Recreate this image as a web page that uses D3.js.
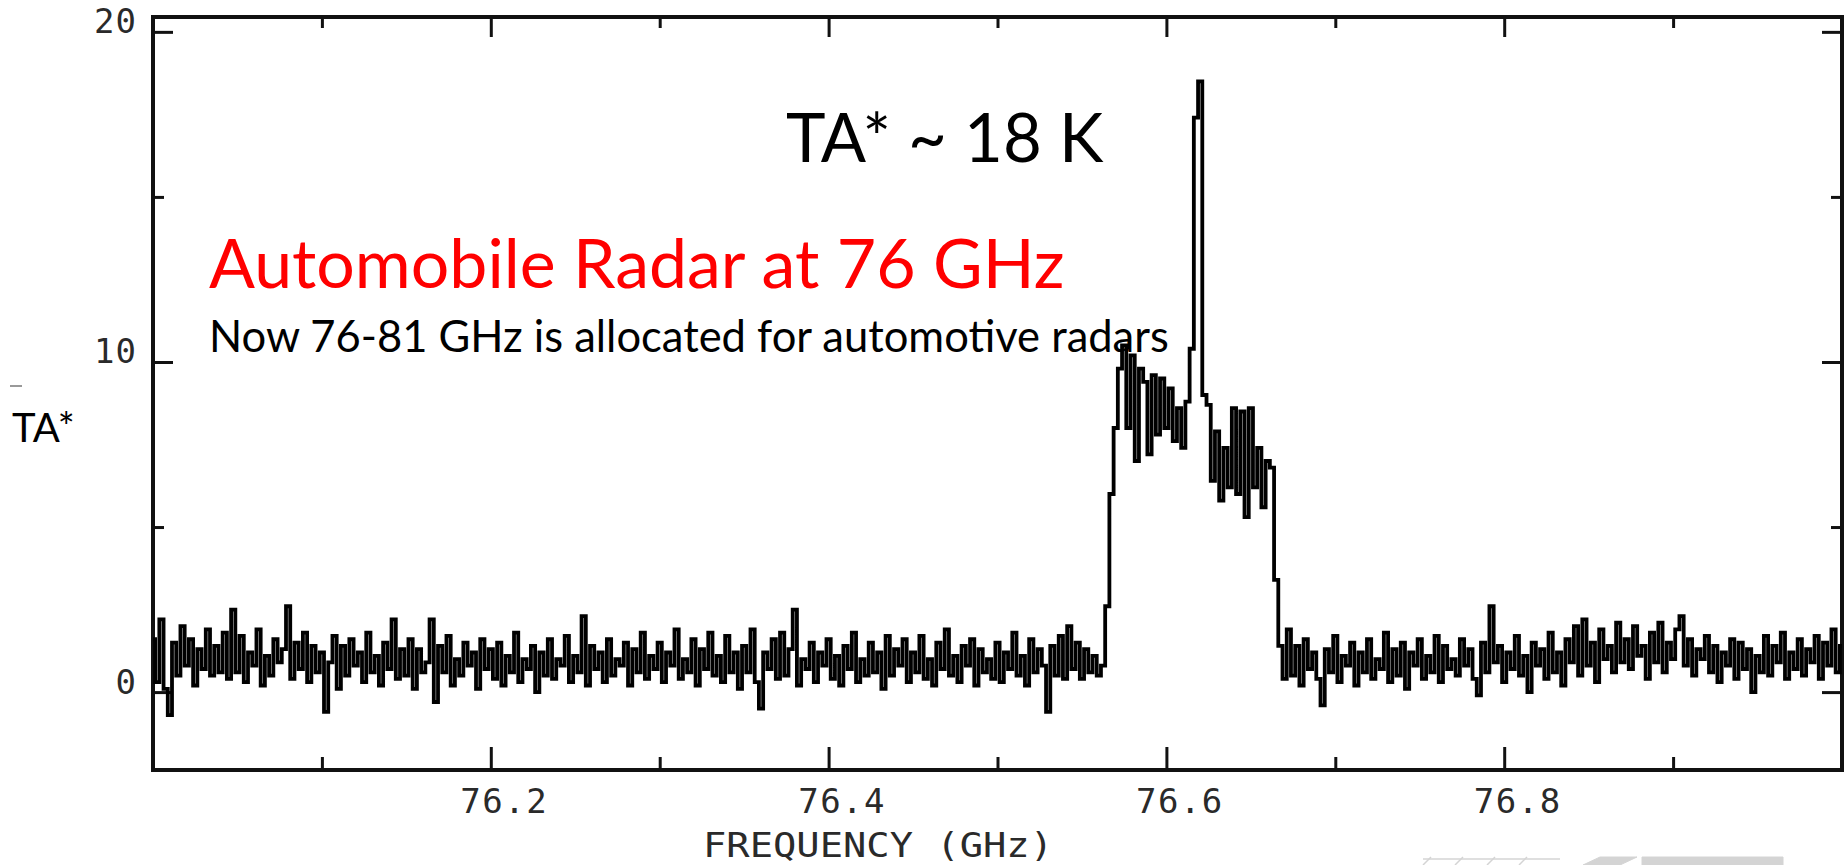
<!DOCTYPE html>
<html lang="en">
  <head>
    <meta charset="utf-8">
    <title>Automobile Radar at 76 GHz</title>
    <script type="text/javascript" src="https://cdn.jsdelivr.net/npm/d3@7"></script>
    <style>
      body { margin: 0; background: #fff; }
      svg { display: block; }
    </style>
  </head>
  <body>
    <script type="text/javascript">
      var width = 1845;
      var height = 865;
      var plot = { left: 153, right: 1842, top: 17, bottom: 770 };

      // spectrum channels, 0.0025 GHz apart, starting at 76.0 GHz
      var freqStart = 76.0;
      var freqStep = 0.0025;

      // 76.0000 - 76.5600 GHz (baseline noise)
      var taLeft = [
        1.6, 0.3, 2.2, 0.1, -0.7, 1.5, 0.5, 2.0, 0.8, 1.6, 0.2, 1.3, 0.7, 1.9, 0.5, 1.4, 0.6, 1.8, 0.4, 2.5,
        0.6, 1.7, 0.3, 1.2, 0.8, 1.9, 0.2, 1.1, 0.5, 1.6, 0.9, 1.3, 2.6, 0.4, 1.5, 0.7, 1.8, 0.3, 1.4, 0.6,
        1.2, -0.6, 0.9, 1.7, 0.1, 1.4, 0.5, 1.6, 0.8, 1.2, 0.3, 1.8, 0.6, 1.1, 0.2, 1.5, 0.7, 2.2, 0.4, 1.3,
        0.5, 1.6, 0.1, 1.3, 0.6, 0.9, 2.2, -0.3, 1.4, 0.6, 1.7, 0.2, 1.0, 0.5, 1.5, 0.8, 1.2, 0.1, 1.6, 0.7,
        1.3, 0.4, 1.5, 0.2, 1.1, 0.6, 1.8, 0.3, 1.0, 0.7, 1.4, 0.0, 1.2, 0.5, 1.6, 0.4, 1.0, 0.8, 1.7, 0.3,
        1.1, 0.6, 2.3, 0.2, 1.4, 0.7, 1.2, 0.3, 1.6, 0.5, 1.0, 0.8, 1.5, 0.2, 1.3, 0.6, 1.8, 0.4, 1.1, 0.7,
        1.5, 0.3, 1.2, 0.8, 1.9, 0.4, 1.0, 0.6, 1.6, 0.2, 1.3, 0.7, 1.8, 0.5, 1.1, 0.3, 1.7, 0.6, 1.2, 0.1,
        1.4, 0.6, 1.9, 0.3, -0.5, 1.2, 0.7, 1.6, 0.4, 1.8, 0.5, 1.3, 2.5, 0.2, 1.0, 0.7, 1.5, 0.3, 1.2, 0.8,
        1.6, 0.4, 1.1, 0.2, 1.4, 0.7, 1.8, 0.3, 1.0, 0.5, 1.5, 0.6, 1.2, 0.1, 1.7, 0.5, 1.3, 0.8, 1.6, 0.3,
        1.2, 0.6, 1.7, 0.4, 1.0, 0.2, 1.5, 0.7, 1.9, 0.5, 1.1, 0.3, 1.4, 0.8, 1.6, 0.2, 1.3, 0.6, 1.0, 0.4,
        1.5, 0.3, 1.2, 0.7, 1.8, 0.5, 1.1, 0.2, 1.6, 0.6, 1.3, 0.8, -0.6, 1.4, 0.5, 1.7, 0.4, 2.0, 0.7, 1.5,
        0.4, 1.3, 0.6, 1.1, 0.5
      ];

      // 76.5625 - 76.6700 GHz (radar emission)
      var taLine = [
        0.8, 2.6, 6.0, 8.0, 9.8, 10.5, 8.0, 10.2, 7.0, 9.8, 9.4, 7.2, 9.6, 7.8, 9.5, 8.0, 9.2, 7.6, 8.6, 7.4,
        8.8, 10.4, 17.4, 18.5, 9.0, 8.7, 6.4, 7.9, 5.8, 7.4, 6.2, 8.6, 6.0, 8.5, 5.3, 8.6, 6.2, 7.4, 5.6, 7.0,
        6.8, 3.4, 1.4, 0.4
      ];

      // 76.6725 - 77.0000 GHz (baseline noise)
      var taRight = [
        1.9, 0.5, 1.4, 0.2, 1.6, 0.7, 1.2, 0.4, -0.4, 1.3, 0.6, 1.7, 0.3, 1.1, 0.8, 1.5, 0.2, 1.2, 0.6, 1.6,
        0.4, 1.0, 0.7, 1.8, 0.3, 1.3, 0.5, 1.5, 0.1, 1.2, 0.8, 1.6, 0.4, 1.1, 0.6, 1.7, 0.3, 1.4, 0.7, 1.0,
        0.5, 1.6, 0.8, 1.3, 0.4, -0.1, 1.5, 0.6, 2.6, 0.9, 1.4, 0.3, 1.2, 0.7, 1.7, 0.5, 1.1, 0.0, 1.5, 0.8,
        1.3, 0.4, 1.8, 0.6, 1.2, 0.2, 1.6, 0.9, 2.0, 0.5, 2.2, 0.8, 1.5, 0.3, 1.9, 1.0, 1.4, 0.6, 2.1, 0.9,
        1.6, 0.7, 2.0, 1.1, 1.4, 0.4, 1.8, 0.9, 2.1, 0.6, 1.5, 1.0, 1.9, 2.3, 0.8, 1.6, 0.5, 1.3, 1.0, 1.7,
        0.6, 1.4, 0.3, 1.2, 0.8, 1.6, 0.4, 1.5, 0.7, 1.3, 0.0, 1.1, 0.6, 1.7, 0.5, 1.4, 0.9, 1.8, 0.4, 1.2,
        0.7, 1.6, 0.5, 1.3, 0.9, 1.7, 0.4, 1.5, 0.8, 1.9, 0.6, 1.4
      ];

      var xDomain = [76.0, 77.0];
      var yDomain = [-2.36, 20.45];
      var xMajorTicks = [76.2, 76.4, 76.6, 76.8];
      var xMinorTicks = [76.1, 76.3, 76.5, 76.7, 76.9];
      var yMajorTicks = [0, 10, 20];
      var yMinorTicks = [5, 15];

      var xTitle = "FREQUENCY (GHz)";
      var yTitle = "TA*";
      var peakNote = "TA* ~ 18 K";
      var headline = "Automobile Radar at 76 GHz";
      var subline = "Now 76-81 GHz is allocated for automotive radars";

      var spectrum = taLeft.concat(taLine, taRight).map(function(v, i) {
        return { f: freqStart + i * freqStep, ta: v };
      });

      var xScale = d3.scaleLinear().domain(xDomain).range([plot.left, plot.right]);
      var yScale = d3.scaleLinear().domain(yDomain).range([plot.bottom, plot.top]);

      var svg = d3.select("body")
            .append("svg")
            .attr("width", width)
            .attr("height", height);

      var tickFont = "'DejaVu Sans Mono', monospace";
      var slideFont = "Lato, 'Open Sans', sans-serif";

      function styleAxis(g) {
        g.select(".domain").remove();
        g.selectAll(".tick line").attr("stroke", "#111").attr("stroke-width", 3);
      }

      // bottom axis, ticks point inward
      svg.append("g")
         .attr("transform", "translate(0," + plot.bottom + ")")
         .call(d3.axisBottom(xScale).tickValues(xMajorTicks).tickSize(-23).tickFormat(d3.format(".1f")))
         .call(styleAxis)
         .call(function(g) {
           g.selectAll("text")
            .attr("y", 43).attr("dy", null).attr("dx", 13)
            .attr("font-family", tickFont).attr("font-size", "34px")
            .attr("letter-spacing", "1.5px").attr("fill", "#2a2a2a");
         });
      svg.append("g")
         .attr("transform", "translate(0," + plot.bottom + ")")
         .call(d3.axisBottom(xScale).tickValues(xMinorTicks).tickSize(-13).tickFormat(""))
         .call(styleAxis);

      // top axis
      svg.append("g")
         .attr("transform", "translate(0," + plot.top + ")")
         .call(d3.axisTop(xScale).tickValues(xMajorTicks).tickSize(-20).tickFormat(""))
         .call(styleAxis);
      svg.append("g")
         .attr("transform", "translate(0," + plot.top + ")")
         .call(d3.axisTop(xScale).tickValues(xMinorTicks).tickSize(-11).tickFormat(""))
         .call(styleAxis);

      // left axis
      svg.append("g")
         .attr("transform", "translate(" + plot.left + ",0)")
         .call(d3.axisLeft(yScale).tickValues(yMajorTicks).tickSize(-20).tickPadding(16))
         .call(styleAxis)
         .call(function(g) {
           g.selectAll("text")
            .attr("dy", null).attr("y", 1)
            .attr("font-family", tickFont).attr("font-size", "34px")
            .attr("letter-spacing", "1px").attr("fill", "#2a2a2a");
         });
      svg.append("g")
         .attr("transform", "translate(" + plot.left + ",0)")
         .call(d3.axisLeft(yScale).tickValues(yMinorTicks).tickSize(-11).tickFormat(""))
         .call(styleAxis);

      // right axis
      svg.append("g")
         .attr("transform", "translate(" + plot.right + ",0)")
         .call(d3.axisRight(yScale).tickValues(yMajorTicks).tickSize(-20).tickFormat(""))
         .call(styleAxis);
      svg.append("g")
         .attr("transform", "translate(" + plot.right + ",0)")
         .call(d3.axisRight(yScale).tickValues(yMinorTicks).tickSize(-11).tickFormat(""))
         .call(styleAxis);

      // frame
      svg.append("rect")
         .attr("x", plot.left)
         .attr("y", plot.top)
         .attr("width", plot.right - plot.left)
         .attr("height", plot.bottom - plot.top)
         .attr("fill", "none")
         .attr("stroke", "#111")
         .attr("stroke-width", 4);

      // spectrum, drawn as a histogram
      var line = d3.line()
                   .x(function(d) { return xScale(d.f); })
                   .y(function(d) { return yScale(d.ta); })
                   .curve(d3.curveStep);

      svg.append("path")
         .datum(spectrum)
         .attr("d", line)
         .attr("fill", "none")
         .attr("stroke", "#000")
         .attr("stroke-width", 3.8)
         .attr("stroke-linejoin", "miter");

      // axis titles
      svg.append("text")
         .text(xTitle)
         .attr("x", 703)
         .attr("y", 857)
         .attr("font-family", tickFont)
         .attr("font-size", "34px")
         .attr("textLength", 350)
         .attr("lengthAdjust", "spacingAndGlyphs")
         .attr("fill", "#2a2a2a");

      svg.append("line")
         .attr("x1", 10).attr("x2", 22)
         .attr("y1", 386).attr("y2", 386)
         .attr("stroke", "#999").attr("stroke-width", 2);

      svg.append("text")
         .text(yTitle)
         .attr("x", 12)
         .attr("y", 442)
         .attr("font-family", slideFont)
         .attr("font-size", "40px")
         .attr("fill", "#000");

      // slide annotations
      svg.append("text")
         .text(peakNote)
         .attr("x", 786)
         .attr("y", 162)
         .attr("font-family", slideFont)
         .attr("font-size", "67px")
         .attr("fill", "#000");

      svg.append("text")
         .text(headline)
         .attr("x", 209)
         .attr("y", 288)
         .attr("font-family", slideFont)
         .attr("font-size", "68px")
         .attr("fill", "#ff0000");

      svg.append("text")
         .text(subline)
         .attr("x", 209)
         .attr("y", 352)
         .attr("font-family", slideFont)
         .attr("font-size", "43.5px")
         .attr("fill", "#000");

      // faint logo cut off at the lower right corner
      var logo = svg.append("g").attr("fill", "#d4d4d4").attr("stroke", "#d4d4d4");
      [1423, 1455, 1487, 1519].forEach(function(x0) {
        logo.append("line").attr("x1", x0).attr("x2", x0 + 8)
            .attr("y1", 865).attr("y2", 857).attr("stroke-width", 1.5);
      });
      logo.append("line").attr("x1", 1423).attr("x2", 1560)
          .attr("y1", 859).attr("y2", 859).attr("stroke-width", 1.5);
      logo.append("polygon").attr("points", "1583,865 1600,857 1637,857 1620,865");
      logo.append("polygon").attr("points", "1642,857 1783,857 1783,865 1642,865");
    </script>
  </body>
</html>
